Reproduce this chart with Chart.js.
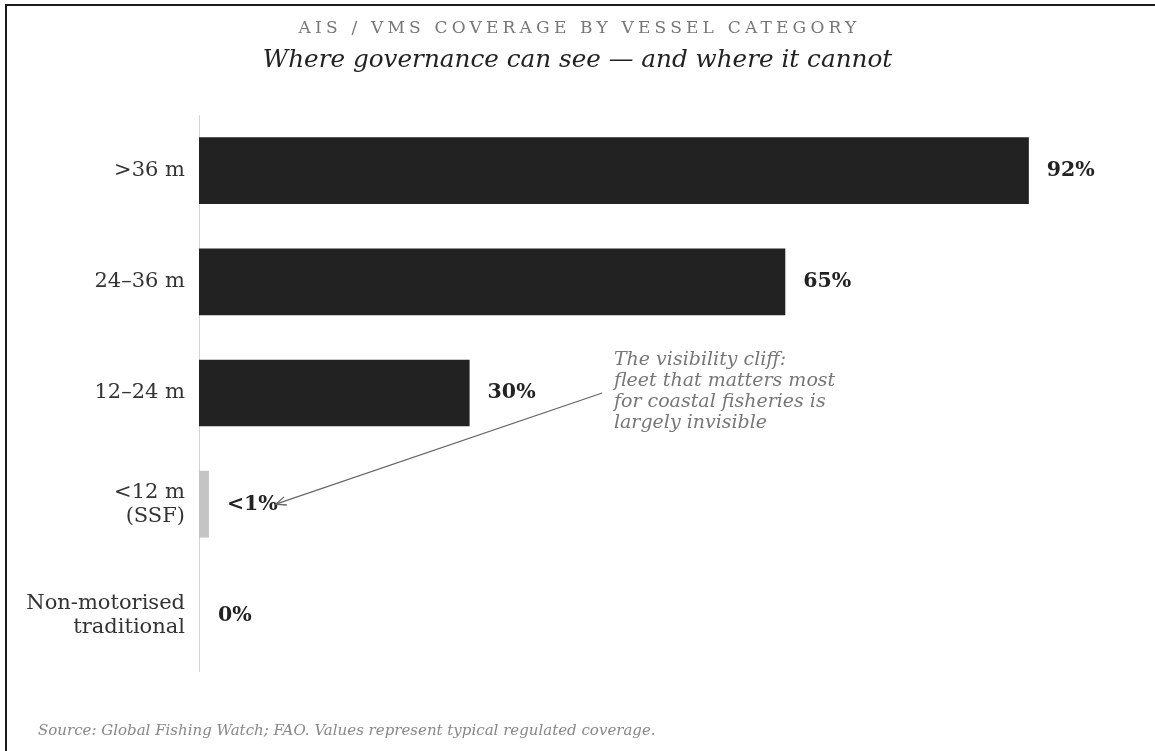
<!DOCTYPE html>
<html><head><meta charset="utf-8">
<script src="https://cdn.jsdelivr.net/npm/chart.js@4.4.1/dist/chart.umd.min.js"></script>
<style>
html,body{margin:0;padding:0;background:#fff;width:1155px;height:751px;overflow:hidden;}
#frame{position:absolute;left:5px;top:4px;width:1200px;height:800px;border:2px solid #1a1a1a;box-sizing:border-box;}
#wrap{position:absolute;left:0;top:0;width:1155px;height:751px;}
</style></head><body>
<div id="frame"></div>
<div id="wrap"><canvas id="c"></canvas></div>
<script>
const categories = [['>36 m'], ['24–36 m'], ['12–24 m'], ['<12 m', '(SSF)'], ['Non-motorised', 'traditional']];
const coverage = [92, 65, 30, 1.1, 0];
const valueLabels = ['92%', '65%', '30%', '<1%', '0%'];
const barColors = ['#222222', '#222222', '#222222', '#c4c4c4', '#d6d6d6'];
const titleText = 'AIS / VMS COVERAGE BY VESSEL CATEGORY';
const subtitleText = 'Where governance can see — and where it cannot';
const sourceText = 'Source: Global Fishing Watch; FAO. Values represent typical regulated coverage.';
const annotationLines = ['The visibility cliff:', 'fleet that matters most', 'for coastal fisheries is', 'largely invisible'];

const SERIF = '"DejaVu Serif", serif';

const decor = {
  id: 'decor',
  afterDatasetsDraw(chart) {
    const { ctx, scales: { x, y } } = chart;
    const W = chart.width;
    ctx.save();
    // titles
    ctx.textAlign = 'center';
    ctx.textBaseline = 'middle';
    ctx.fillStyle = '#777';
    ctx.font = '17px ' + SERIF;
    ctx.letterSpacing = '4.2px';
    ctx.fillText(titleText, W / 2 + 2, 29);
    ctx.letterSpacing = '0px';
    ctx.fillStyle = '#222';
    ctx.font = 'italic 24.7px ' + SERIF;
    ctx.fillText(subtitleText, W / 2, 61);

    // value labels
    const meta = chart.getDatasetMeta(0);
    ctx.textAlign = 'left';
    ctx.font = 'bold 20.5px ' + SERIF;
    ctx.fillStyle = '#222';
    let ssfEnd = 0, ssfY = 0;
    meta.data.forEach((bar, i) => {
      ctx.fillText(valueLabels[i], bar.x + 18, bar.y);
      if (i === 3) { ssfEnd = bar.x + 18 + ctx.measureText(valueLabels[i]).width; ssfY = bar.y; }
    });

    // annotation
    const ax = x.getPixelForValue(46);
    const ay = y.getPixelForValue(2) - 33;
    ctx.font = 'italic 19px ' + SERIF;
    ctx.fillStyle = '#777';
    annotationLines.forEach((t, i) => ctx.fillText(t, ax, ay + i * 21));
    // arrow
    const sx = x.getPixelForValue(44.7), sy = y.getPixelForValue(2);
    const ex = ssfEnd - 2, ey = ssfY;
    ctx.strokeStyle = '#666';
    ctx.lineWidth = 1.3;
    ctx.beginPath(); ctx.moveTo(sx, sy); ctx.lineTo(ex, ey); ctx.stroke();
    const ang = Math.atan2(sy - ey, sx - ex);
    const hl = 11, hw = 0.4;
    ctx.beginPath();
    ctx.moveTo(ex + hl * Math.cos(ang + hw), ey + hl * Math.sin(ang + hw));
    ctx.lineTo(ex, ey);
    ctx.lineTo(ex + hl * Math.cos(ang - hw), ey + hl * Math.sin(ang - hw));
    ctx.stroke();

    // source
    ctx.font = 'italic 15px ' + SERIF;
    ctx.fillStyle = '#888';
    ctx.fillText(sourceText, 38, 731);
    ctx.restore();
  }
};

new Chart(document.getElementById('c'), {
  type: 'bar',
  data: {
    labels: categories,
    datasets: [{
      data: coverage,
      backgroundColor: barColors,
      borderWidth: 0,
      barPercentage: 0.6,
      categoryPercentage: 1.0,
      minBarLength: 1
    }]
  },
  options: {
    indexAxis: 'y',
    responsive: true,
    maintainAspectRatio: false,
    animation: false,
    devicePixelRatio: 1,
    layout: { padding: { left: 0, right: 54, top: 115, bottom: 80 } },
    plugins: { legend: { display: false }, tooltip: { enabled: false }, title: { display: false } },
    scales: {
      x: { min: 0, max: 100, display: false },
      y: {
        grid: { display: false, drawTicks: false },
        border: { display: true, color: '#d4d4d4', width: 1 },
        ticks: { color: '#333', font: { family: SERIF, size: 21, lineHeight: 1.15 }, padding: 14 },
        afterFit: (s) => { s.width = 199; }
      }
    }
  },
  plugins: [decor]
});
</script>
</body></html>
